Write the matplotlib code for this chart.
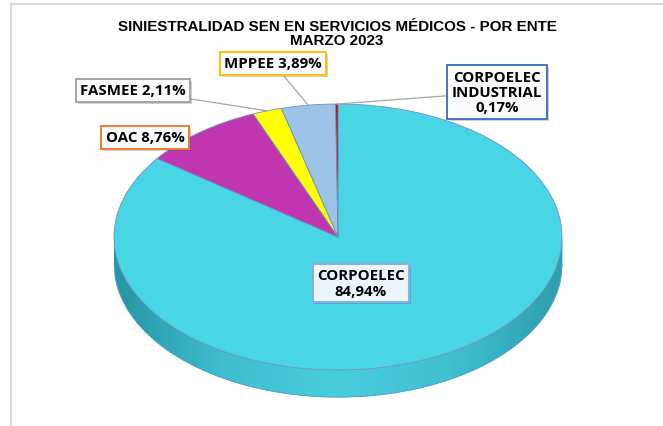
import numpy as np
import matplotlib
matplotlib.use('Agg')
import matplotlib.pyplot as plt
import matplotlib.patheffects as pe
from matplotlib.colors import LinearSegmentedColormap

# datos
entes = ['CORPOELEC', 'OAC', 'FASMEE', 'MPPEE', 'CORPOELEC\nINDUSTRIAL']
porcentajes = [84.94, 8.76, 2.11, 3.89, 0.17]
colores = ['#48D5E6', '#C036B0', '#FFFF00', '#9DC3E6', '#C00000']
bordes_caja = ['#8FAADC', '#ED7D31', '#A5A5A5', '#FFC000', '#4472C4']
titulo = 'SINIESTRALIDAD SEN EN SERVICIOS MÉDICOS - POR ENTE\nMARZO 2023'

W, H = 663, 427
fig = plt.figure(figsize=(W / 100, H / 100), dpi=100)

# elipse del pastel en pixeles
cx, cy, a, b, prof = 338, 238, 224, 133, 27

ax = fig.add_axes([0, 0, 1, 1])
wedges, _ = ax.pie(porcentajes, colors=colores, startangle=90, counterclock=False,
                   wedgeprops=dict(edgecolor='#6F8FBF', linewidth=0.6))
for w in wedges:
    w.set_zorder(3)
ax.set_aspect('auto')
ax.axis('off')

# lado del cilindro (efecto 3D)
d = prof / b
xs = np.linspace(-1, 1, 400)
arriba = -np.sqrt(1 - xs ** 2)
lado = ax.fill_between(xs, arriba - d, arriba, color='#3DB8C9', zorder=1, linewidth=0)
cmap = LinearSegmentedColormap.from_list('lado', ['#2694A3', '#3EBFD0', '#48CDDF', '#40C0D1', '#2E9EAD'])
grad = ax.imshow(np.linspace(0, 1, 256).reshape(1, -1), cmap=cmap, aspect='auto',
                 extent=(-1, 1, -1 - d, 0), zorder=2)
grad.set_clip_path(lado.get_paths()[0], transform=ax.transData)
ax.plot(xs, arriba - d, color='#5A9FCF', lw=0.6, zorder=2)
ax.set_xlim((0 - cx) / a, (W - cx) / a)
ax.set_ylim(-(H - cy) / b, cy / b)

# capa en pixeles para textos
ov = fig.add_axes([0, 0, 1, 1])
ov.set_xlim(0, W)
ov.set_ylim(H, 0)
ov.axis('off')
ov.patch.set_alpha(0)

ov.plot([11, W], [5, 5], color='#D9D9D9', lw=1.5)
ov.plot([11, 11], [5, H], color='#D9D9D9', lw=1.5)

ov.text(337, 34, titulo, ha='center', va='center', fontsize=10.9, fontweight='bold',
        family='Liberation Sans', linespacing=0.92)

pos_caja = [(361, 284), (145, 138), (133, 91), (273, 64), (497, 93)]
con_linea = [False, False, True, True, True]
for i, (w, nombre, v) in enumerate(zip(wedges, entes, porcentajes)):
    val = f'{v:.2f}'.replace('.', ',')
    sep = '\n' if i in (0, 4) else ' '
    txt = f'{nombre}{sep}{val}%'
    fc = '#EAF6FB' if i == 0 else '#FAFCFD'
    t = ov.text(*pos_caja[i], txt, ha='center', va='center', fontsize=10.8,
                fontweight='bold', family='Open Sans', linespacing=1.1, zorder=6,
                bbox=dict(boxstyle='square,pad=0.3', fc=fc, ec=bordes_caja[i], lw=1.4))
    t.get_bbox_patch().set_path_effects([pe.SimplePatchShadow(offset=(1.5, -1.5), alpha=0.25),
                                         pe.Normal()])
    if con_linea[i]:
        ang = np.deg2rad((w.theta1 + w.theta2) / 2)
        ov.annotate('', xy=(np.cos(ang), np.sin(ang)), xycoords=ax.transData,
                    xytext=pos_caja[i], textcoords='data',
                    arrowprops=dict(arrowstyle='-', color='#A6A6A6', lw=0.9,
                                    shrinkA=0, shrinkB=0), zorder=5)

fig.savefig('out.png', dpi=100)
